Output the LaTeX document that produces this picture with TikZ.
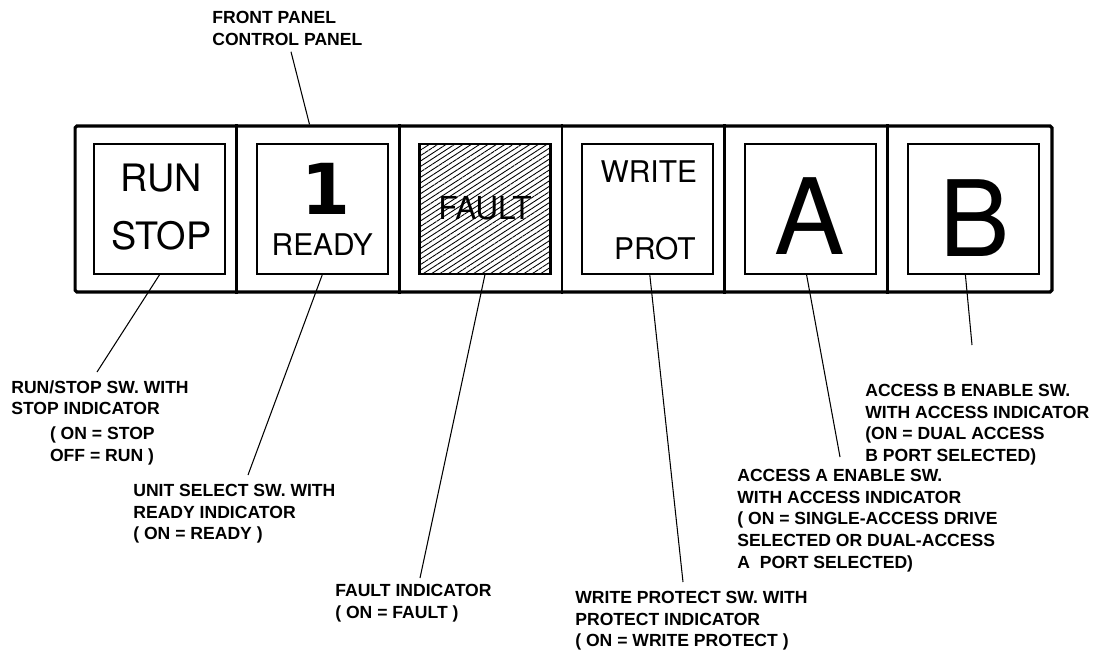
\documentclass[tikz,border=0pt]{standalone}
\usepackage{fontspec}
\setmainfont{Liberation Sans}
\newfontfamily\keyfont{TeX Gyre Heros}
\newfontfamily\digitfont{DejaVu Sans}
\usetikzlibrary{patterns.meta}
\begin{document}
\begin{tikzpicture}[x=0.02cm, y=-0.02cm,
  keybox/.style={draw, line width=1.1pt, minimum width=2.62cm, minimum height=2.6cm, inner sep=0pt},
  keytext/.style={inner sep=0pt, font=\keyfont\fontsize{#1}{#1}\selectfont},
  lab/.style={font=\fontsize{10}{12.3}\selectfont\bfseries, align=left, anchor=north west, inner sep=0pt},
  lead/.style={line width=0.6pt}]
\useasboundingbox (0,0) rectangle (1101,652);
% panel
\node[draw, line width=1.8pt, rounded corners=1pt, minimum width=19.54cm, minimum height=3.32cm, inner sep=0pt] (panel) at (563.5,209) {};
\foreach \i in {1,...,5}
  \draw[line width=1.6pt] ([xshift=\i*3.2567cm]panel.north west) -- ([xshift=\i*3.2567cm]panel.south west);
% switches
\node[keybox] (run) at (159.4,209) {};
\node[keybox] (unit) at (322.2,209) {};
\node[keybox, line width=1.5pt, pattern={Lines[angle=33,distance=2.6pt,line width=0.5pt]}] (fault) at (485,209) {};
\node[keybox] (wprot) at (647.8,209) {};
\node[keybox] (acca) at (810.6,209) {};
\node[keybox] (accb) at (973.4,209) {};
\node[keytext=21.5] (runtxt) at ([shift={(2,-31)}]run.center) {RUN};
\node[keytext=21.5] (stoptxt) at ([shift={(2,27)}]run.center) {STOP};
\node[inner sep=0pt, font=\digitfont\bfseries\fontsize{40}{40}\selectfont] (unitno) at ([shift={(4,-20)}]unit.center) {1};
\node[keytext=17] (readytxt) at ([shift={(0,36)}]unit.center) {READY};
\node[keytext=18] (faulttxt) at ([shift={(0,-1)}]fault.center) {FAULT};
\node[keytext=17] (writetxt) at ([shift={(1,-37)}]wprot.center) {WRITE};
\node[keytext=17] (prottxt) at ([shift={(7,40)}]wprot.center) {PROT};
\node[keytext=60] (atxt) at ([shift={(-1,7)}]acca.center) {A};
\node[keytext=60] (btxt) at ([shift={(1,9)}]accb.center) {B};
% labels
\node[lab] (frontlab) at (212,11) {FRONT PANEL\\CONTROL PANEL};
\node[lab] (runlab) at (11,380) {RUN/STOP SW. WITH\\STOP INDICATOR\\[2pt]\hspace*{22pt}( ON = STOP\\\hspace*{22pt}OFF = RUN )};
\node[lab] (unitlab) at (133,484) {UNIT SELECT SW. WITH\\READY INDICATOR\\( ON = READY )};
\node[lab] (faultlab) at (335,584) {FAULT INDICATOR\\( ON = FAULT )};
\node[lab] (wprotlab) at (575,591) {WRITE PROTECT SW. WITH\\PROTECT INDICATOR\\( ON = WRITE PROTECT )};
\node[lab] (accalab) at (737,469) {ACCESS A ENABLE SW.\\WITH ACCESS INDICATOR\\( ON = SINGLE-ACCESS DRIVE\\SELECTED OR DUAL-ACCESS\\A~ PORT SELECTED)};
\node[lab] (accblab) at (865,384) {ACCESS B ENABLE SW.\\WITH ACCESS INDICATOR\\(ON = DUAL ACCESS\\B PORT SELECTED)};
% leaders
\draw[lead] ([shift={(79,6)}]frontlab.south west) -- ([shift={(236,0)}]panel.north west);
\draw[lead] (run.south) -- ([shift={(86,-8)}]runlab.north west);
\draw[lead] (unit.south) -- ([shift={(115,-9)}]unitlab.north west);
\draw[lead] (fault.south) -- ([shift={(85,-6)}]faultlab.north west);
\draw[lead] ([shift={(2,0)}]wprot.south) -- ([shift={(108,-9)}]wprotlab.north west);
\draw[lead] ([shift={(-4,0)}]acca.south) -- ([shift={(103,-12)}]accalab.north west);
\draw[lead] ([shift={(-8,0)}]accb.south) -- ([shift={(107,-39)}]accblab.north west);
\end{tikzpicture}
\end{document}
